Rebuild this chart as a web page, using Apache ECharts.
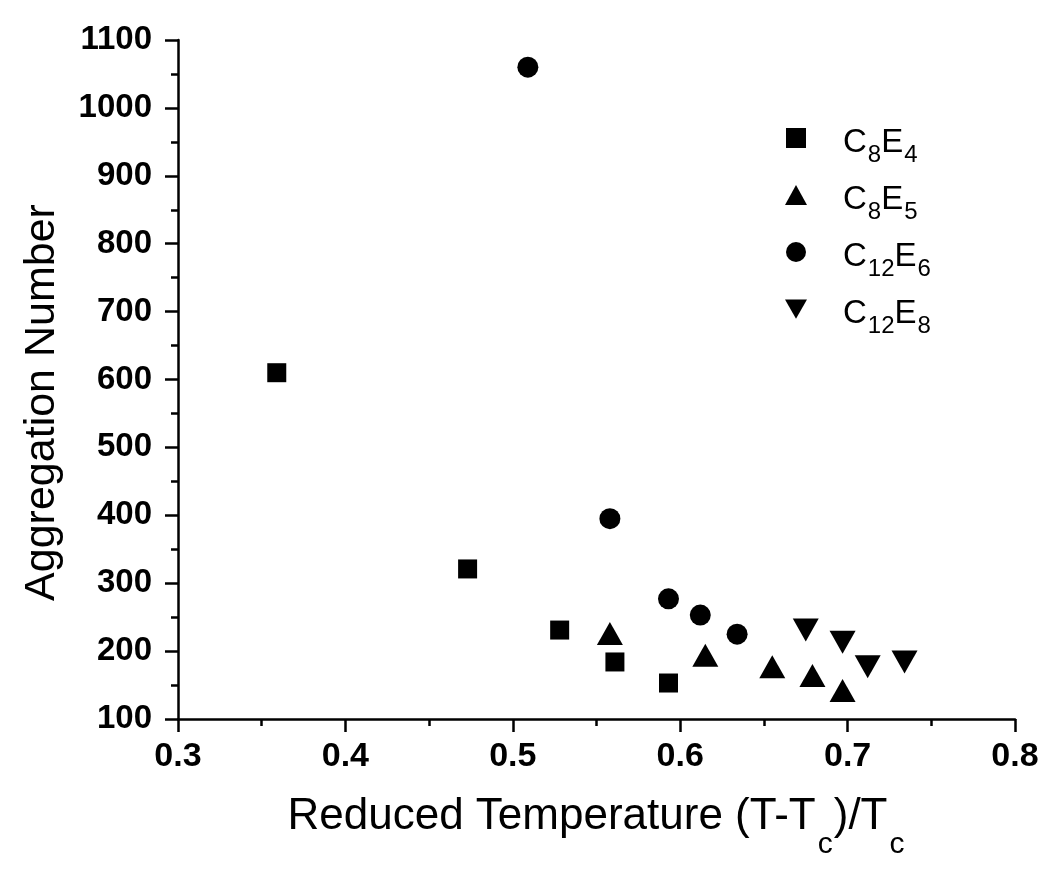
<!DOCTYPE html>
<html>
<head>
<meta charset="utf-8">
<script src="https://cdn.jsdelivr.net/npm/echarts@6/dist/echarts.min.js"></script>
<style>
html,body{margin:0;padding:0;background:#fff;}
#chart{width:1050px;height:873px;}
</style>
</head>
<body>
<div id="chart"></div>
<script>
// ---- data ----
var seriesNames = ['C8E4', 'C8E5', 'C12E6', 'C12E8'];
var c8e4X = [0.359, 0.473, 0.528, 0.561, 0.593];
var c8e4Y = [610, 321, 231, 184, 153];
var c8e5X = [0.558, 0.615, 0.655, 0.679, 0.697];
var c8e5Y = [226, 194, 177, 164, 142];
var c12e6X = [0.509, 0.558, 0.593, 0.612, 0.634];
var c12e6Y = [1060, 395, 277, 253, 225];
var c12e8X = [0.675, 0.697, 0.712, 0.734];
var c12e8Y = [231, 213, 177, 184];
var xTitle = '{m|Reduced Temperature (T-T}{s|c}{m|)/T}{s|c}';
var yTitle = 'Aggregation Number';

function pairs(xs, ys) { return xs.map(function (x, i) { return [x, ys[i]]; }); }

var FONT = '"Liberation Sans", Arial, sans-serif';
var downTri = 'path://M0,0L24,0L12,21Z';
var markStyle = {color: '#000', opacity: 1};

var chart = echarts.init(document.getElementById('chart'), null, {renderer: 'canvas'});
var axisCommon = {
  axisLine: {show: true, onZero: false, lineStyle: {color: '#000', width: 2.5}},
  axisTick: {show: true, inside: false, length: 13, lineStyle: {color: '#000', width: 2.5}},
  minorTick: {show: true, splitNumber: 2, length: 7, lineStyle: {color: '#000', width: 2.5}},
  splitLine: {show: false},
  minorSplitLine: {show: false}
};
var option = {
  backgroundColor: '#fff',
  animation: false,
  grid: {left: 178, right: 35, top: 40, bottom: 154, containLabel: false},
  xAxis: Object.assign({
    type: 'value', min: 0.3, max: 0.8, interval: 0.1,
    name: xTitle, nameLocation: 'middle', nameGap: 76,
    nameTextStyle: {
      color: '#000', fontFamily: FONT, lineHeight: 44,
      rich: {
        m: {fontSize: 44, height: 44, lineHeight: 44, fontFamily: FONT, color: '#000', verticalAlign: 'top', padding: [0, 0, 0, 0]},
        s: {fontSize: 30, height: 30, lineHeight: 44, fontFamily: FONT, color: '#000', verticalAlign: 'top', padding: [35, 1, 0, 2]}
      }
    },
    axisLabel: {color: '#000', fontFamily: FONT, fontSize: 34, fontWeight: 'bold', margin: 21,
      formatter: function (v) { return v.toFixed(1); }}
  }, axisCommon),
  yAxis: Object.assign({
    type: 'value', min: 100, max: 1100, interval: 100,
    name: yTitle, nameLocation: 'middle', nameGap: 114, nameRotate: 90,
    nameTextStyle: {color: '#000', fontFamily: FONT, fontSize: 43, padding: [0, 46, 0, 0]},
    axisLabel: {color: '#000', fontFamily: FONT, fontSize: 33, fontWeight: 'bold', margin: 26,
      formatter: function (v) { return String(v); }}
  }, axisCommon),
  legend: {
    orient: 'vertical', left: 785, top: 121, padding: 0, itemGap: 11,
    itemWidth: 22, itemHeight: 20, symbolKeepAspect: true,
    itemStyle: {color: '#000', opacity: 1},
    data: [
      {name: 'C8E4', icon: 'path://M0,0L10,0L10,10L0,10Z'},
      {name: 'C8E5', icon: 'triangle'},
      {name: 'C12E6', icon: 'circle'},
      {name: 'C12E8', icon: downTri}
    ],
    formatter: function (name) {
      var m = name.match(/^C(\d+)E(\d+)$/);
      return '{m0|C}{s|' + m[1] + '}{m|E}{s|' + m[2] + '}';
    },
    textStyle: {
      color: '#000', fontFamily: FONT, lineHeight: 34,
      rich: {
        m0: {fontSize: 33, height: 34, lineHeight: 34, fontFamily: FONT, color: '#000', verticalAlign: 'top', padding: [5, 0, 0, 31]},
        m: {fontSize: 33, height: 34, lineHeight: 34, fontFamily: FONT, color: '#000', verticalAlign: 'top', padding: [5, 0, 0, 0]},
        s: {fontSize: 24, height: 24, lineHeight: 34, fontFamily: FONT, color: '#000', verticalAlign: 'top', padding: [22, 0, 0, 1]}
      }
    }
  },
  series: [
    {name: seriesNames[0], type: 'scatter', symbol: 'rect', symbolSize: 19, itemStyle: markStyle, data: pairs(c8e4X, c8e4Y)},
    {name: seriesNames[1], type: 'scatter', symbol: 'triangle', symbolSize: [26, 23], itemStyle: markStyle, data: pairs(c8e5X, c8e5Y)},
    {name: seriesNames[2], type: 'scatter', symbol: 'circle', symbolSize: 21, itemStyle: markStyle, data: pairs(c12e6X, c12e6Y)},
    {name: seriesNames[3], type: 'scatter', symbol: downTri, symbolSize: [26, 23], itemStyle: markStyle, data: pairs(c12e8X, c12e8Y)}
  ]
};
chart.setOption(option);
</script>
</body>
</html>
